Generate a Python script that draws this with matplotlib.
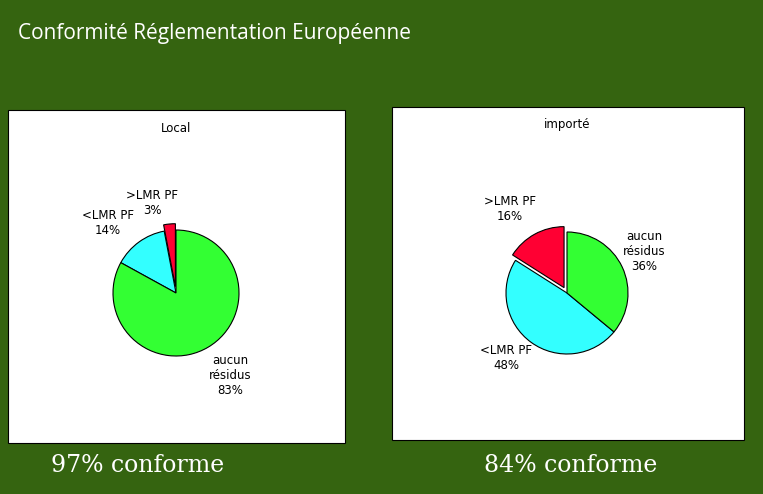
import matplotlib
matplotlib.use("Agg")
import matplotlib.pyplot as plt
from matplotlib.patches import Rectangle

categories = [">LMR PF", "<LMR PF", "aucun\nrésidus"]
local_vals = [3, 14, 83]
import_vals = [16, 48, 36]
colors = ["#ff0033", "#33ffff", "#33ff33"]

fig = plt.figure(figsize=(7.63, 4.94), dpi=100)
fig.patch.set_facecolor("#356410")
ax = fig.add_axes([0, 0, 1, 1])
ax.set_xlim(0, 763); ax.set_ylim(494, 0); ax.axis("off")

ax.text(18, 33, "Conformité Réglementation Européenne", color="white",
        fontsize=15, family="Open Sans", va="center", ha="left")

for (x0, y0, x1, y1) in [(8, 110, 345, 443), (392, 107, 744, 440)]:
    ax.add_patch(Rectangle((x0, y0), x1 - x0, y1 - y0, facecolor="white",
                           edgecolor="black", lw=0.8))

def draw(vals, cx, cy, r, title, ty, labels):
    ax.pie(vals, colors=colors, startangle=90, counterclock=True,
           center=(cx, -cy), radius=r, explode=[0.1, 0, 0],
           wedgeprops=dict(edgecolor="black", linewidth=0.8), frame=True)
    ax.text(cx, ty, title, ha="center", va="center", fontsize=8.5)
    for (lx, ly), c, v in zip(labels, categories, vals):
        ax.text(lx, ly, f"{c}\n{v}%", ha="center", va="center", fontsize=8.5,
                linespacing=1.2)

# pie uses y-up; temporarily handle with a separate axes for each pie instead
ax.cla()
ax.set_xlim(0, 763); ax.set_ylim(494, 0); ax.axis("off")
ax.text(18, 33, "Conformité Réglementation Européenne", color="white",
        fontsize=15, family="Open Sans", va="center", ha="left")
for (x0, y0, x1, y1) in [(8, 110, 345, 443), (392, 107, 744, 440)]:
    ax.add_patch(Rectangle((x0, y0), x1 - x0, y1 - y0, facecolor="white",
                           edgecolor="black", lw=0.8))

W, H = 763, 494
def pie_at(vals, cx, cy, r):
    size = 2.6 * r
    pa = fig.add_axes([(cx - size / 2) / W, 1 - (cy + size / 2) / H, size / W, size / H])
    pa.pie(vals, colors=colors, startangle=90, counterclock=True,
           explode=[0.1, 0, 0], radius=1,
           wedgeprops=dict(edgecolor="black", linewidth=0.8))
    pa.set_xlim(-1.3, 1.3); pa.set_ylim(-1.3, 1.3); pa.set_aspect("equal")
    pa.axis("off")

pie_at(local_vals, 176, 293, 63)
pie_at(import_vals, 567, 293, 61)

def labels(vals, pos, title, tpos):
    ax.text(*tpos, title, ha="center", va="center", fontsize=8.5)
    for (lx, ly), c, v in zip(pos, categories, vals):
        ax.text(lx, ly, f"{c}\n{v}%", ha="center", va="center", fontsize=8.5,
                linespacing=1.2)

labels(local_vals, [(152, 203), (108, 223), (230, 375)], "Local", (176, 128))
labels(import_vals, [(510, 209), (506, 358), (644, 251)], "importé", (567, 124))

ax.text(138, 465, "97% conforme", color="white", fontsize=17, family="DejaVu Serif",
        ha="center", va="center")
ax.text(571, 465, "84% conforme", color="white", fontsize=17, family="DejaVu Serif",
        ha="center", va="center")

fig.savefig("out.png", dpi=100, facecolor=fig.get_facecolor())
